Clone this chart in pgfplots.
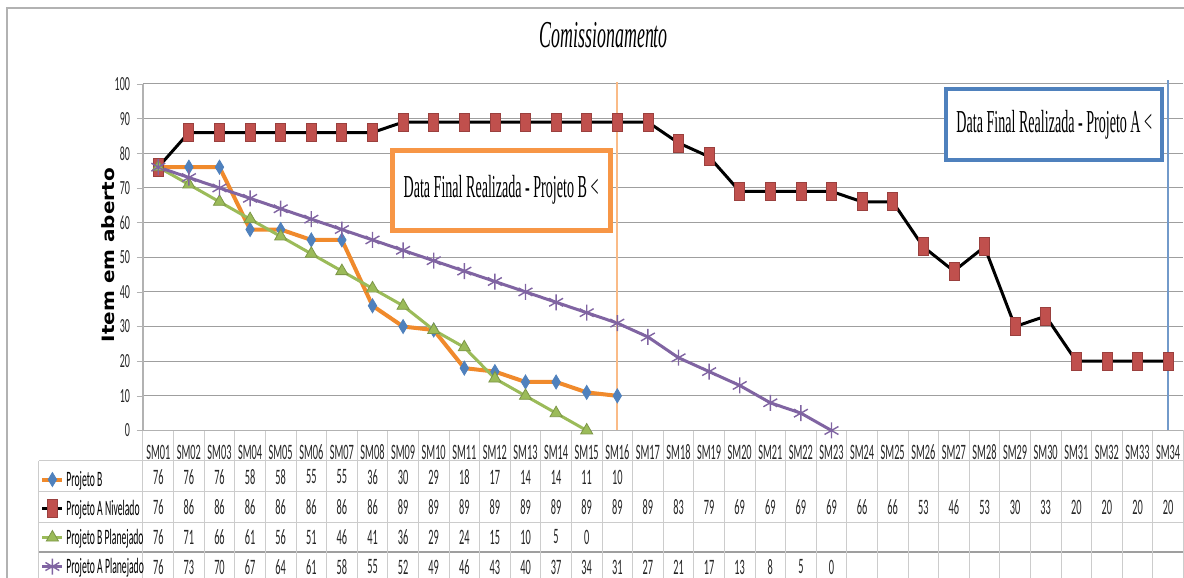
\documentclass[border=0pt]{standalone}
\usepackage{fontspec}
\usepackage{graphicx}
\usepackage{pgfplots}
\pgfplotsset{compat=1.18}
\usepackage{pgfplotstable}
\setmainfont{Liberation Serif}
\newfontfamily\calfont{Carlito}
\newfontfamily\djfont{DejaVu Sans}
\definecolor{cB}{HTML}{F08A2C}
\definecolor{cBmk}{HTML}{4F81BD}
\definecolor{cAN}{HTML}{C0504D}
\definecolor{cBP}{HTML}{9BBB59}
\definecolor{cAP}{HTML}{8064A2}
\definecolor{cOr}{HTML}{F79646}
\definecolor{cBl}{HTML}{4F81BD}
\newcommand\sq[1]{\scalebox{0.47}[1]{#1}}
\newcommand\sqL[1]{\scalebox{0.44}[1]{#1}}
\newcommand\sqY[1]{\scalebox{0.5}[1]{#1}}

% Projeto B
\pgfplotstableread{
x y
0 76
1 76
2 76
3 58
4 58
5 55
6 55
7 36
8 30
9 29
10 18
11 17
12 14
13 14
14 11
15 10
}\tB
% Projeto A Nivelado
\pgfplotstableread{
x y
0 76
1 86
2 86
3 86
4 86
5 86
6 86
7 86
8 89
9 89
10 89
11 89
12 89
13 89
14 89
15 89
16 89
17 83
18 79
19 69
20 69
21 69
22 69
23 66
24 66
25 53
26 46
27 53
28 30
29 33
30 20
31 20
32 20
33 20
}\tAN
% Projeto B Planejado
\pgfplotstableread{
x y
0 76
1 71
2 66
3 61
4 56
5 51
6 46
7 41
8 36
9 29
10 24
11 15
12 10
13 5
14 0
}\tBP
% Projeto A Planejado
\pgfplotstableread{
x y
0 76
1 73
2 70
3 67
4 64
5 61
6 58
7 55
8 52
9 49
10 46
11 43
12 40
13 37
14 34
15 31
16 27
17 21
18 17
19 13
20 8
21 5
22 0
}\tAP

\pgfplotsset{rowval/.style={forget plot, draw=none, mark=none,
  nodes near coords={\sq{\pgfmathprintnumber{\pgfplotspointmeta}}},
  point meta=explicit,
  every node near coord/.style={anchor=center, inner sep=0pt, font=\calfont\fontsize{11}{12}\selectfont, text=black!85}}}

\begin{document}
\begin{tikzpicture}
\fill[white] (-71.5pt,-73.75pt) rectangle (520.5pt,215.25pt);
% frame and table grid (pixel coordinates)
\begin{scope}[shift={(-71.5pt,215.25pt)}, x=0.5pt, y=-0.5pt]
  \draw[gray!60, line width=1pt] (7.5,578) -- (7.5,8) -- (1184,8);
  \foreach \yy in {461,492,522} \draw[gray!40, line width=0.5pt] (39,\yy) -- (1184,\yy);
  \draw[gray!75, line width=0.6pt] (39,552) -- (1184,552);
  \draw[gray!40, line width=0.5pt] (39,461) -- (39,578);
  \foreach \k in {0,...,34} \draw[gray!40, line width=0.5pt] ({143+30.6*\k},430.5) -- ({143+30.6*\k},578);
\end{scope}
\begin{axis}[at={(0,0)}, anchor=south west, x=15.3pt, y=1.7325pt,
  xmin=-0.5, xmax=33.5, ymin=0, ymax=100, clip=false,
  axis x line*=bottom, axis y line*=left,
  axis line style={draw=gray!60, line width=0.6pt, -},
  tick align=outside, major tick length=3pt,
  xtick={0,...,33},
  xticklabels={\sq{SM01},\sq{SM02},\sq{SM03},\sq{SM04},\sq{SM05},\sq{SM06},\sq{SM07},\sq{SM08},\sq{SM09},\sq{SM10},\sq{SM11},\sq{SM12},\sq{SM13},\sq{SM14},\sq{SM15},\sq{SM16},\sq{SM17},\sq{SM18},\sq{SM19},\sq{SM20},\sq{SM21},\sq{SM22},\sq{SM23},\sq{SM24},\sq{SM25},\sq{SM26},\sq{SM27},\sq{SM28},\sq{SM29},\sq{SM30},\sq{SM31},\sq{SM32},\sq{SM33},\sq{SM34}},
  x tick style={draw=none},
  xticklabel style={font=\calfont\fontsize{11}{12}\selectfont, text=black!85, anchor=center, yshift=-7.75pt},
  ytick={0,10,...,100},
  ymajorgrids, grid style={gray!75, line width=0.5pt},
  y tick style={gray!60},
  yticklabel style={font=\calfont\fontsize{10}{11}\selectfont, text=black!85},
  yticklabel={\sqY{\pgfmathprintnumber{\tick}}},
  /pgf/number format/assume math mode=true,
  ylabel={\scalebox{1}[0.85]{\djfont\bfseries\fontsize{10}{12}\selectfont Item em aberto}},
  ylabel style={at={(axis description cs:-0.0336,0.506)}, anchor=center},
  title={\scalebox{0.47}[1]{\fontsize{19}{21}\selectfont\itshape Comissionamento}},
  title style={at={(axis description cs:0.443,1.107)}, anchor=center},
  legend style={at={(axis description cs:-0.099,-0.0985)}, anchor=north west,
    draw=none, fill=none, inner sep=0pt, row sep=0pt,
    font=\calfont\fontsize{11}{12}\selectfont,
    nodes={inner sep=1pt, text height=9.5pt, text depth=3pt},
    /tikz/every even column/.append style={column sep=1pt}},
  legend cell align=left,
  legend image code/.code={\draw[mark repeat=2,mark phase=2,#1] plot coordinates {(0pt,0pt) (5pt,0pt) (10pt,0pt)};},
]
\addplot[cB, line width=2pt, mark=diamond*, mark size=3.5pt,
  mark options={fill=cBmk, draw=cBmk, xscale=0.8, line width=0.4pt}] table[x=x,y=y] {\tB};
\addlegendentry{\sqL{Projeto B}}
\addplot[black, line width=1.5pt, mark=square*, mark size=2.5pt,
  mark options={fill=cAN, draw=cAN!80!black, yscale=1.8, line width=0.4pt}] table[x=x,y=y] {\tAN};
\addlegendentry{\sqL{Projeto A Nivelado}}
\addplot[cBP, line width=1.5pt, mark=triangle*, mark size=3.5pt,
  mark options={fill=cBP, draw=cBP!80!black, line width=0.4pt}] table[x=x,y=y] {\tBP};
\addlegendentry{\sqL{Projeto B Planejado}}
\addplot[cAP, line width=1.5pt, mark=asterisk, mark size=4pt,
  mark options={line width=0.7pt}] table[x=x,y=y] {\tAP};
\addlegendentry{\sqL{Projeto A Planejado}}

\addplot[rowval] table[x=x, y expr=-13.42, meta=y] {\tB};
\addplot[rowval] table[x=x, y expr=-22.08, meta=y] {\tAN};
\addplot[rowval] table[x=x, y expr=-30.74, meta=y] {\tBP};
\addplot[rowval] table[x=x, y expr=-39.39, meta=y] {\tAP};

\draw[cOr!65, line width=1pt] (axis cs:15,0) -- (axis cs:15,100.5);
\draw[cBl!80, line width=1pt] (axis cs:33,0) -- (axis cs:33,101.2);
\draw[cOr, line width=2.5pt, fill=white] (axis cs:7.64,80.95) rectangle (axis cs:14.79,57.86);
\node at (axis cs:11.2,69.4) {\scalebox{0.44}[1]{\fontsize{16}{18}\selectfont Data Final Realizada - Projeto B <}};
\draw[cBl, line width=2pt, fill=white] (axis cs:25.75,98.56) rectangle (axis cs:32.8,78.07);
\node at (axis cs:29.28,88.3) {\scalebox{0.44}[1]{\fontsize{16}{18}\selectfont Data Final Realizada - Projeto A <}};
\end{axis}
\pgfresetboundingbox
\path[use as bounding box] (-71.5pt,-73.75pt) rectangle (520.5pt,215.25pt);
\end{tikzpicture}
\end{document}
